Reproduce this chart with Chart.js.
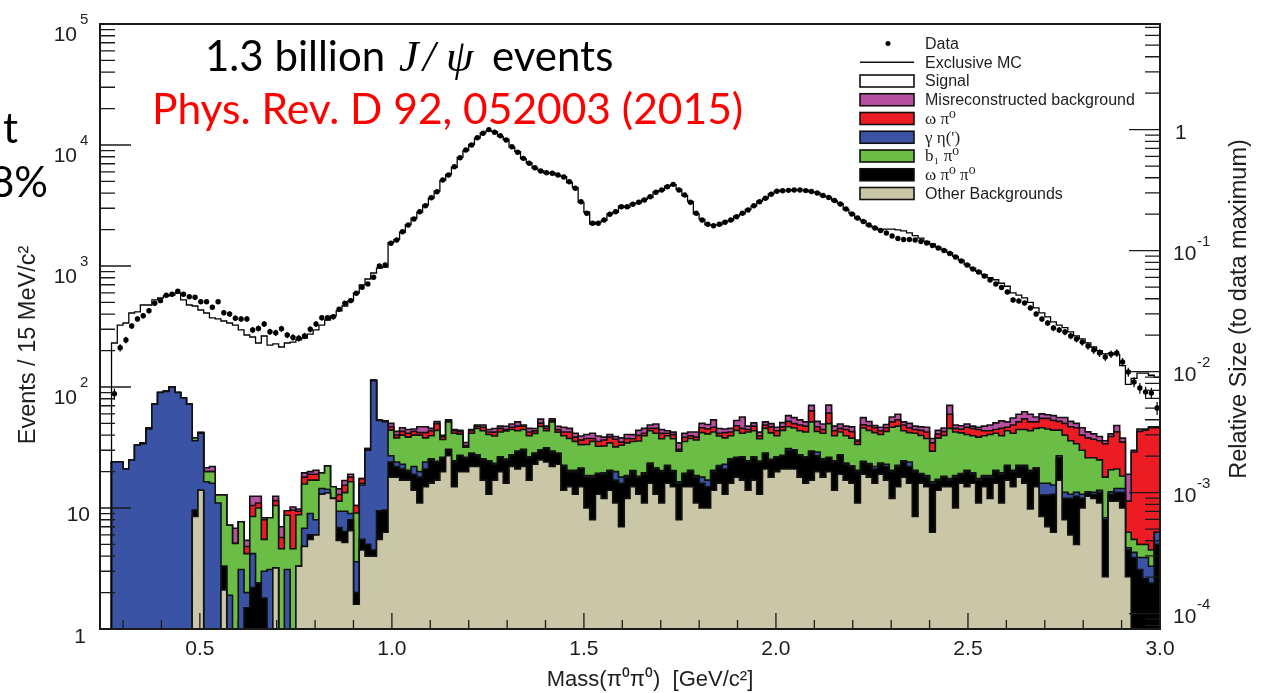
<!DOCTYPE html>
<html>
<head>
<meta charset="utf-8">
<script src="https://cdn.jsdelivr.net/npm/chart.js@4.4.1/dist/chart.umd.min.js"></script>
<style>
  html, body { margin: 0; padding: 0; background: #fff; }
  #wrap { position: relative; width: 1262px; height: 693px; }
</style>
</head>
<body>
<div id="wrap"><canvas id="massChart" width="1262" height="693"></canvas></div>
<script>
// 15 MeV bins of M(pi0 pi0), first bin starts at threshold
const binLow = 0.27;
const binWidth = 0.015;

const xTicks = [0.5, 1.0, 1.5, 2.0, 2.5, 3.0];
const yDecades = [1, 10, 100, 1000, 10000, 100000];
const relDecades = [1e-4, 1e-3, 1e-2, 1e-1, 1];

const dataCounts = [
  88, 211, 245, 319, 365, 388, 427, 492, 517, 573,
  584, 618, 584, 557, 551, 507, 507, 456, 507, 411,
  401, 370, 365, 365, 296, 305, 332, 286, 281, 303,
  269, 257, 253, 264, 300, 332, 374, 374, 381, 439,
  492, 517, 595, 667, 710, 807, 1000, 1019, 1541, 1640,
  1920, 2183, 2445, 2810, 3150, 3665, 4112, 5140, 5650, 6620,
  7850, 9100, 10000, 11490, 12500, 13400, 12740, 11940, 11000, 9680,
  8710, 7760, 7060, 6490, 6100, 5900, 5840, 5650, 5440, 4970,
  4390, 3400, 2730, 2255, 2255, 2400, 2675, 2810, 3090, 3090,
  3235, 3360, 3510, 3740, 4065, 4250, 4520, 4730, 4250, 3860,
  3360, 2730, 2400, 2212, 2153, 2212, 2297, 2400, 2555, 2730,
  2904, 3150, 3400, 3630, 3915, 4150, 4190, 4220, 4250, 4250,
  4200, 4130, 4010, 3825, 3680, 3477, 3253, 2958, 2690, 2494,
  2333, 2183, 2061, 1965, 1875, 1770, 1688, 1656, 1656, 1640,
  1594, 1549, 1477, 1409, 1343, 1268, 1187, 1100, 1019, 944,
  892, 827, 766, 710, 664, 610, 524, 514, 495, 450,
  401, 365, 338, 307, 296, 285, 264, 249, 235, 218,
  202, 191, 177, 187, 191, 161, 133, 110, 98, 91,
  89, 67
];

const exclusiveMC = [
  231, 325, 338, 409, 417, 476, 476, 524, 544, 565,
  576, 598, 524, 476, 467, 433, 409, 372, 365, 351,
  338, 325, 296, 269, 259, 231, 264, 222, 227, 214,
  231, 235, 245, 254, 274, 296, 325, 358, 386, 425,
  467, 514, 598, 697, 781, 875, 962, 981, 1560, 1650,
  1900, 2200, 2480, 2790, 3180, 3640, 4150, 5100, 5700, 6550,
  7900, 9000, 10100, 11400, 12600, 13100, 12900, 11800, 11100, 9600,
  8800, 7700, 7100, 6450, 6150, 5850, 5900, 5600, 5480, 4900,
  4450, 3350, 2780, 2220, 2290, 2380, 2700, 2780, 3120, 3060,
  3270, 3330, 3550, 3700, 4100, 4220, 4560, 4700, 4300, 3820,
  3400, 2700, 2430, 2190, 2180, 2190, 2320, 2380, 2580, 2700,
  2930, 3120, 3430, 3600, 3950, 4150, 4220, 4200, 4280, 4220,
  4230, 4100, 4040, 3800, 3710, 3450, 3280, 2930, 2720, 2470,
  2360, 2160, 2080, 1990, 2020, 2020, 1985, 1950, 1880, 1780,
  1700, 1600, 1520, 1430, 1360, 1290, 1200, 1120, 1030, 960,
  905, 850, 800, 770, 720, 680, 600, 575, 545, 500,
  450, 410, 380, 345, 325, 310, 285, 265, 250, 232,
  214, 200, 188, 190, 185, 150, 105, 118, 130, 130,
  125, 120
];

// background components, listed bottom to top of the stack
const otherBkg = [
  0, 0, 0, 0, 0, 0, 0, 0, 0, 0,
  0, 0, 0, 0, 8.5, 14, 0, 0, 0, 2.1,
  0, 0, 0, 0, 0, 0, 0, 0, 3.2, 0,
  0, 0.8, 3.3, 4.8, 5.5, 6, 13, 13.3, 12, 5.4,
  5.2, 6.5, 1.6, 4.5, 4, 4, 5.5, 6.3, 18, 18,
  17, 17, 14, 11, 15, 16, 17, 20, 27, 15,
  20, 20, 22, 22, 17, 13, 17, 20, 16, 22,
  21, 22, 17, 23, 25, 24, 22, 23, 14, 15,
  13, 15, 10, 8, 13, 12, 14, 11, 7, 12,
  15, 13, 11, 16, 13, 11, 16, 15, 8, 15,
  15, 11, 10, 10, 14, 16, 13, 16, 18, 17,
  14, 17, 13, 21, 18, 20, 21, 21, 21, 18,
  16, 17, 20, 18, 20, 14, 19, 17, 16, 11,
  19, 18, 16, 19, 17, 12, 15, 18, 16, 8.5,
  16, 15, 6.3, 14, 15, 15, 10, 16, 15, 16,
  11, 15, 12, 16, 11, 17, 15, 18, 16, 9.8,
  15, 8.5, 7, 6.3, 17, 8, 6, 5, 10, 12.5,
  12, 11, 2.7, 11.4, 11.4, 10, 2.7, 0, 0, 0,
  0, 0
];

const omegaPiPi = [
  0, 0, 0, 0, 0, 0, 0, 0, 0, 0,
  0, 0, 0, 0, 1.1, 0, 0, 0, 0, 1.2,
  0, 0, 0, 1.5, 2.2, 2.4, 1.8, 1.0, 0, 0,
  0, 0, 0, 0, 0.5, 0, 0, 0, 0, 1.5,
  1.2, 1.5, 0.4, 1, 1, 0.5, 4, 3.3, 6, 4,
  4, 3, 5, 7, 6, 9, 7, 6, 3, 9,
  7, 6, 6, 5, 8, 11, 6, 6, 9, 5,
  8, 8, 9, 5, 5, 7, 7, 5, 8, 5,
  7, 6, 8, 10, 6, 7, 6, 6, 9, 6,
  5, 5, 8, 7, 8, 9, 6, 5, 8, 4,
  5, 7, 6, 5, 6, 6, 8, 9, 8, 9,
  10, 9, 11, 7, 7, 6, 6, 9, 9, 9,
  10, 12, 7, 7, 6, 10, 8, 6, 6, 9,
  5, 5, 5, 4, 5, 8, 7, 6, 6, 11.5,
  3, 3, 9.7, 3, 3, 2, 8, 3, 5, 3,
  6, 3, 6, 4, 8, 5, 5, 4, 6, 10.2,
  6, 4.3, 5.8, 6.7, 9, 4, 6, 7.5, 2, 0.8,
  1, 2.5, 5.3, 1.6, 2.1, 3.5, 1.8, 3.9, 3.1, 2.6,
  2.4, 5
];

const gammaEta = [
  24, 24, 21, 25, 33, 34, 45, 72, 90, 92,
  100, 90, 81, 72, 26.4, 27.5, 16.5, 16, 11, 0,
  1.9, 0, 3.1, 0.5, 2.0, 0, 1.2, 2.1, 0, 0,
  3.1, 0, 0, 2, 3, 2, 1.5, 1, 0, 2.5,
  3, 1, 1.6, 10, 25, 108, 43.5, 42, 3, 2,
  2, 0.5, 3, 2, 3, 0.5, 0.3, 0.3, 0.5, 0.5,
  0.3, 0.3, 0.5, 0.5, 0.5, 0.5, 0.4, 0.5, 0.4, 0.5,
  0.5, 0.5, 0.5, 0.4, 0.3, 0.5, 0.5, 0.4, 0.5, 0.5,
  0.5, 0.4, 0.5, 0.5, 0.4, 0.5, 0.5, 3, 2, 0.5,
  0.4, 0.3, 0.5, 0.5, 0.5, 0.4, 0.5, 0.4, 0.5, 0.4,
  0.5, 0.5, 2, 2, 0.5, 0.4, 2, 0.5, 0.3, 0.5,
  0.5, 0.5, 0.4, 0.5, 0.3, 0.5, 0.3, 1, 0.3, 0.5,
  0.5, 0.5, 2, 0.5, 0.3, 0.5, 0.5, 0.5, 0.3, 0.5,
  0.3, 0.3, 1, 0.5, 1, 0.5, 0.5, 0.5, 2, 0.5,
  0.3, 0.5, 0.5, 0.3, 0.3, 0.5, 0.5, 0.3, 0.5, 0.5,
  0.5, 0.5, 0.5, 0.5, 0.5, 0.5, 0.5, 0.5, 0.5, 0.5,
  0.5, 3.2, 3.2, 2.5, 1, 1.5, 1, 1, 1, 0.3,
  0.5, 0.5, 0.3, 0.6, 1, 1, 0.2, 0.4, 0.8, 1.3,
  0.9, 1.3
];

const b1Pi = [
  0, 0, 0, 0, 0, 0.6, 0.8, 0, 0, 0,
  0, 0, 0, 0, 2, 0.5, 3.5, 4, 1.8, 9.5,
  5.3, 5.1, 4.6, 2.2, 4.3, 7.6, 2.5, 5.2, 7.3, 4.6,
  5.6, 3.8, 5.5, 9, 8, 9, 5, 8, 3, 2,
  4, 7.5, 5.5, 0.5, 0.5, 0, 0, 1, 17, 14,
  17, 18, 18, 20, 14, 14, 19.5, 10.5, 21, 17,
  13.5, 5.5, 13, 18, 18, 16, 16, 16, 18, 17,
  14, 14, 13, 13, 17, 12, 22, 14, 17, 17,
  15, 12, 15, 17, 13, 13, 14, 12, 15, 16,
  15, 17.5, 20, 20, 20, 17, 17, 17, 13, 16,
  17, 18, 24, 24, 22, 17, 15, 14, 17.5, 15,
  18, 17, 13, 17, 16.5, 13, 16.5, 16, 15.5, 16,
  16, 22, 14, 16, 23.5, 15, 15, 16, 15.5, 13,
  21.5, 20.5, 20, 17, 20, 26, 25, 19, 18, 21,
  20.5, 19, 13, 20.5, 21.5, 28, 24, 22.5, 20, 20,
  21, 21, 22, 21, 20, 21, 21, 22, 22, 23,
  24, 30, 29, 28.5, 17, 26.5, 23, 20.5, 17, 12.4,
  12.5, 11, 9.7, 7.1, 6.5, 3.9, 1.6, 1.2, 1.1, 1.1,
  1.2, 0
];

const omegaPi = [
  0, 0, 0, 0, 0, 0, 0, 0, 0, 0,
  0, 0, 0, 0, 0, 0, 0, 0, 0, 0,
  0, 0, 0, 0.6, 2.0, 1, 2.5, 0, 1, 1.1,
  0.8, 5.0, 0.6, 2.2, 2, 2, 0, 0, 0, 1.5,
  2, 1.5, 1.4, 1.5, 0.5, 1.5, 0, 0, 3, 2,
  3, 3, 3, 2, 4, 4, 6, 2, 1, 2,
  2, 1, 2, 2, 3, 2, 3, 3, 1, 2,
  4, 3, 3, 2, 3, 2, 1, 2, 3, 5,
  3, 3, 4, 2, 3, 4, 4, 5, 2, 3,
  2, 4, 2, 2, 4, 4, 2, 3, 1, 3,
  2, 2, 4, 4, 4, 2, 4, 3, 4, 4,
  2, 4, 2, 3, 5, 4, 3, 5, 4, 5,
  5, 12, 4, 3, 11, 4, 3, 5, 5, 2,
  3, 4, 4, 3, 3, 5, 6, 5, 4, 3,
  4, 5, 5, 3, 3, 14, 3, 3, 6, 6,
  6, 4, 3, 3, 6, 3, 7, 7, 10, 8,
  6, 9, 10, 9, 8, 10, 11, 12, 10, 12,
  11, 11, 16, 18.3, 21.6, 16.6, 5.1, 23.5, 38, 39,
  41.5, 39.7
];

const misrec = [
  0, 0, 0, 0, 0, 0, 0, 0, 0, 0,
  0, 0, 0, 0, 0, 0, 1.5, 2, 0, 0,
  0, 1.7, 0, 0.6, 2.0, 1.5, 0.3, 0, 1, 1.3,
  0, 0.6, 0.4, 1.5, 1, 1.5, 0, 0, 0, 1.5,
  1.5, 1, 0, 0, 0, 0, 0, 0, 3, 3,
  3, 3, 2, 5, 5, 2, 2, 1, 1, 1,
  1, 2, 1, 1, 2, 2, 3, 2, 3, 3,
  4, 1, 3, 2, 4, 2, 2, 3, 4, 3,
  3, 3, 3, 4, 4, 2, 2, 2, 3, 3,
  3, 4, 4, 3, 4, 3, 2, 2, 4, 3,
  3, 4, 4, 4, 7, 4, 3, 3, 5, 11,
  3, 3, 3, 3, 3, 3, 4, 6, 6, 5,
  4, 7, 5, 5, 10, 4, 4, 3, 4, 1,
  7, 4, 2, 3, 3, 5, 6, 3, 4, 3,
  3, 4, 3, 3, 3, 11, 3, 3, 3, 2,
  2, 4, 5, 6, 7, 5, 7, 8, 8, 8,
  5, 5, 4, 5, 4, 6, 5, 4, 6, 4.6,
  4, 3, 2, 2, 5.4, 2.8, 7.6, 1, 2, 1,
  1, 1
];

const stackParts = [
  { key: 'other', label: 'Other Backgrounds', values: otherBkg, color: '#cac6a8' },
  { key: 'omegaPiPi', label: 'ω π⁰ π⁰', values: omegaPiPi, color: '#000000' },
  { key: 'gammaEta', label: "γ η(')", values: gammaEta, color: '#3a53a4' },
  { key: 'b1Pi', label: 'b₁ π⁰', values: b1Pi, color: '#6abd45' },
  { key: 'omegaPi', label: 'ω π⁰', values: omegaPi, color: '#ed1c24' },
  { key: 'misrec', label: 'Misreconstructed background', values: misrec, color: '#b7509f' }
];
// legend lists the components in its own order
const legendOrder = ['misrec', 'omegaPi', 'gammaEta', 'b1Pi', 'omegaPiPi', 'other'];

const nBins = dataCounts.length;
const edges = dataCounts.map((_, i) => binLow + i * binWidth);
const binHigh = binLow + nBins * binWidth;
const dataMax = Math.max(...dataCounts);

// log axis can't take zeros: empty bins sit far below the frame
const floorLog = v => Math.max(v, 0.01);

// stepped outline: rise from the floor at the first edge, hold each value across its bin
function histPoints(values) {
  const pts = [{ x: binLow, y: 0.01 }];
  values.forEach((v, i) => pts.push({ x: edges[i], y: floorLog(v) }));
  pts.push({ x: binHigh, y: floorLog(values[nBins - 1]) });
  return pts;
}

let running = new Array(nBins).fill(0);
const stackSets = stackParts.map((part, k) => {
  running = running.map((r, i) => r + part.values[i]);
  return {
    label: part.label,
    data: histPoints(running),
    stepped: true,
    borderColor: '#111',
    borderWidth: 1.6,
    backgroundColor: part.color,
    fill: k === 0 ? 'start' : '-1',
    pointRadius: 0,
    pointHoverRadius: 0,
    yAxisID: 'y'
  };
});

const dataSet = {
  label: 'Data',
  data: dataCounts.map((n, i) => ({ x: edges[i] + binWidth / 2, y: n })),
  showLine: false,
  pointRadius: 2.7,
  pointBackgroundColor: '#000',
  pointBorderWidth: 0,
  yAxisID: 'y'
};

const mcSet = {
  label: 'Exclusive MC',
  data: histPoints(exclusiveMC),
  stepped: true,
  borderColor: '#000',
  borderWidth: 1.3,
  fill: false,
  pointRadius: 0,
  pointHoverRadius: 0,
  yAxisID: 'y'
};

const textColor = '#1e1e1e';
const sans = '"Liberation Sans", Arial, sans-serif';
const serif = '"Liberation Serif", "DejaVu Serif", serif';
Chart.defaults.font.family = sans;

function drawLegend(ctx) {
  const rows = [
    { label: 'Data', kind: 'dot' },
    { label: 'Exclusive MC', kind: 'line' },
    { label: 'Signal', kind: 'box', color: '#ffffff' }
  ].concat(legendOrder.map(key => {
    const p = stackParts.find(s => s.key === key);
    return { label: p.label, kind: 'box', color: p.color };
  }));

  rows.forEach((row, i) => {
    const cy = 43.5 + i * 18.75;
    ctx.strokeStyle = '#111';
    ctx.fillStyle = '#000';
    if (row.kind === 'dot') {
      ctx.beginPath();
      ctx.arc(888, cy, 2.5, 0, Math.PI * 2);
      ctx.fill();
    } else if (row.kind === 'line') {
      ctx.lineWidth = 1.3;
      ctx.beginPath();
      ctx.moveTo(860, cy);
      ctx.lineTo(914, cy);
      ctx.stroke();
    } else {
      ctx.fillStyle = row.color;
      ctx.fillRect(860, cy - 6, 54, 12);
      ctx.lineWidth = 1.6;
      ctx.strokeRect(860, cy - 6, 54, 12);
    }
    ctx.fillStyle = textColor;
    ctx.font = /[ωγπη]/.test(row.label) ? '17px ' + serif : '16px ' + sans;
    ctx.textAlign = 'left';
    ctx.textBaseline = 'middle';
    ctx.fillText(row.label, 925, cy + 1);
  });
}

const frameDecor = {
  id: 'frameDecor',
  afterDatasetsDraw(chart) {
    const { ctx, scales: { x, y } } = chart;
    // Poisson error bars on the data points
    ctx.save();
    ctx.strokeStyle = '#000';
    ctx.lineWidth = 1.2;
    ctx.beginPath();
    dataCounts.forEach((n, i) => {
      const px = x.getPixelForValue(edges[i] + binWidth / 2);
      const err = Math.sqrt(n);
      ctx.moveTo(px, y.getPixelForValue(n + err));
      ctx.lineTo(px, y.getPixelForValue(Math.max(n - err, 0.5)));
    });
    ctx.stroke();
    ctx.restore();
  },
  afterDraw(chart) {
    const { ctx, chartArea: a, scales: { x, y, yRel } } = chart;
    ctx.save();

    // inward ticks, ROOT style
    ctx.strokeStyle = '#1a1a1a';
    ctx.lineWidth = 1.3;
    ctx.beginPath();
    yDecades.forEach((d, e) => {
      const py = y.getPixelForValue(d);
      ctx.moveTo(a.left, py);
      ctx.lineTo(a.left + 31, py);
      if (e < yDecades.length - 1) {
        for (let m = 2; m <= 9; m++) {
          const q = y.getPixelForValue(m * d);
          ctx.moveTo(a.left, q);
          ctx.lineTo(a.left + 15, q);
        }
      }
    });
    for (let e = -5; e <= 0; e++) {
      for (let m = 1; m <= 9; m++) {
        const r = m * Math.pow(10, e);
        if (r < yRel.min || r > yRel.max) continue;
        const q = yRel.getPixelForValue(r);
        ctx.moveTo(a.right, q);
        ctx.lineTo(a.right - (m === 1 ? 31 : 15), q);
      }
    }
    for (let k = 3; k <= 30; k++) {
      const px = x.getPixelForValue(k / 10);
      ctx.moveTo(px, a.bottom);
      ctx.lineTo(px, a.bottom - (k % 5 === 0 ? 16 : 9));
    }
    ctx.stroke();

    ctx.lineWidth = 2;
    ctx.strokeRect(a.left, a.top, a.right - a.left, a.bottom - a.top);

    // left axis labels: 1, 10, 10^n
    ctx.fillStyle = textColor;
    ctx.textBaseline = 'middle';
    yDecades.forEach(d => {
      const py = y.getPixelForValue(d);
      const e = Math.round(Math.log10(d));
      ctx.font = '21px ' + sans;
      ctx.textAlign = 'right';
      if (e === 0) {
        ctx.fillText('1', 86, py + 8);
      } else if (e === 1) {
        ctx.fillText('10', 90, py + 7);
      } else {
        ctx.fillText('10', 77, py + 11);
        ctx.font = '15px ' + sans;
        ctx.textAlign = 'left';
        ctx.fillText(String(e), 80, py - 4);
      }
    });

    // right axis labels, relative to the data maximum
    relDecades.forEach(r => {
      const py = yRel.getPixelForValue(r);
      const e = Math.round(Math.log10(r));
      ctx.font = '21px ' + sans;
      ctx.textAlign = 'left';
      if (e === 0) {
        ctx.fillText('1', 1175, py + 4);
      } else {
        ctx.fillText('10', 1173, py + 4);
        ctx.font = '15px ' + sans;
        ctx.fillText('-' + (-e), 1197, py - 9);
      }
    });

    // axis titles
    ctx.font = '23.5px ' + sans;
    ctx.textAlign = 'center';
    ctx.save();
    ctx.translate(29, 345);
    ctx.rotate(-Math.PI / 2);
    ctx.fillText('Events / 15 MeV/c²', 0, 0);
    ctx.restore();
    ctx.save();
    ctx.translate(1240, 309);
    ctx.rotate(-Math.PI / 2);
    ctx.fillText('Relative Size (to data maximum)', 0, 0);
    ctx.restore();
    ctx.font = '22px ' + sans;
    ctx.fillText('Mass(π⁰π⁰)  [GeV/c²]', 650, 680);

    drawLegend(ctx);

    // slide annotations
    ctx.textBaseline = 'alphabetic';
    ctx.textAlign = 'left';
    ctx.fillStyle = '#000';
    ctx.font = '42px Lato';
    ctx.fillText('1.3 billion', 205, 71);
    ctx.font = 'italic 44px ' + serif;
    ctx.fillText('J', 399, 71);
    ctx.fillText('/', 423, 71);
    ctx.fillText('ψ', 446, 71);
    ctx.font = '42px Lato';
    ctx.fillText('events', 492, 71);

    ctx.fillStyle = '#ff0000';
    ctx.font = '42.5px Lato';
    ctx.fillText('Phys. Rev. D 92, 052003 (2015)', 152, 124);

    ctx.fillStyle = '#000';
    ctx.font = '42px Lato';
    ctx.textAlign = 'right';
    ctx.fillText('t', 18, 143);
    ctx.fillText('8%', 48, 197);

    ctx.restore();
  }
};

new Chart(document.getElementById('massChart'), {
  type: 'line',
  data: { datasets: [dataSet, mcSet, ...stackSets] },
  options: {
    responsive: false,
    animation: false,
    events: [],
    layout: { padding: { top: 24, left: 0, right: 0, bottom: 0 } },
    plugins: { legend: { display: false }, tooltip: { enabled: false } },
    scales: {
      x: {
        type: 'linear',
        min: 0.24,
        max: 3.0,
        bounds: 'data',
        grid: { display: false, drawTicks: false },
        border: { display: false },
        ticks: {
          font: { size: 21 },
          color: textColor,
          padding: 8,
          maxRotation: 0,
          autoSkip: false,
          callback: v => v.toFixed(1)
        },
        afterBuildTicks: s => { s.ticks = xTicks.map(v => ({ value: v })); },
        afterFit: s => { s.height = 64; }
      },
      y: {
        type: 'logarithmic',
        position: 'left',
        min: 1,
        max: 1e5,
        bounds: 'data',
        grid: { display: false, drawTicks: false },
        border: { display: false },
        ticks: { display: false },
        afterFit: s => { s.width = 100; }
      },
      yRel: {
        type: 'logarithmic',
        position: 'right',
        min: 1 / dataMax,
        max: 1e5 / dataMax,
        bounds: 'data',
        grid: { display: false, drawTicks: false },
        border: { display: false },
        ticks: { display: false },
        afterFit: s => { s.width = 102; }
      }
    }
  },
  plugins: [frameDecor]
});
</script>
</body>
</html>
